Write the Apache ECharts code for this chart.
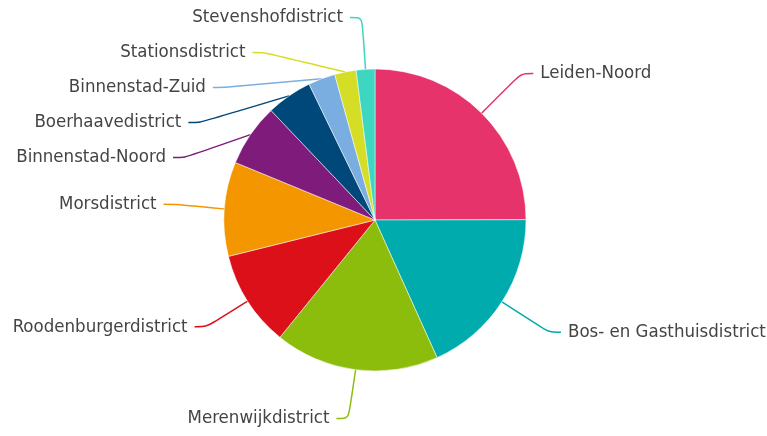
<!DOCTYPE html>
<html>
<head>
<meta charset="utf-8">
<script src="https://cdn.jsdelivr.net/npm/echarts@6/dist/echarts.min.js"></script>
<style>html,body{margin:0;padding:0;background:#fff}#c{width:767px;height:436px}</style>
</head>
<body>
<div id="c"></div>
<script>
const categories = ["Leiden-Noord","Bos- en Gasthuisdistrict","Merenwijkdistrict","Roodenburgerdistrict","Morsdistrict","Binnenstad-Noord","Boerhaavedistrict","Binnenstad-Zuid","Stationsdistrict","Stevenshofdistrict"];
const values = [25.0, 18.3, 17.6, 10.3, 10.1, 6.7, 4.9, 2.9, 2.3, 2.0];
const colors = ["#e7336b","#00abae","#8dbd0c","#dc1018","#f49600","#7e1b7b","#00477a","#7aaee0","#d6dd27","#3dd6c0"];

const chart = echarts.init(document.getElementById('c'));
chart.setOption({
  animation: false,
  series: [{
    type: 'pie',
    center: [375, 220],
    radius: [0, 151],
    startAngle: 90,
    clockwise: true,
    avoidLabelOverlap: true,
    itemStyle: { borderColor: '#ffffff', borderWidth: 0.5 },
    label: {
      show: true,
      position: 'outside',
      fontFamily: '"DejaVu Sans Condensed", Roboto',
      fontSize: 18.5,
      lineHeight: 25,
      padding: [8, 0, 0, 0],
      color: '#444444',
      overflow: 'none',
      distanceToLabelLine: 7
    },
    labelLine: { show: true, length: 56, length2: 12, smooth: true, lineStyle: { width: 1.5 } },
    data: categories.map((n, i) => ({ name: n, value: values[i], itemStyle: { color: colors[i] } }))
  }]
});
</script>
</body>
</html>
